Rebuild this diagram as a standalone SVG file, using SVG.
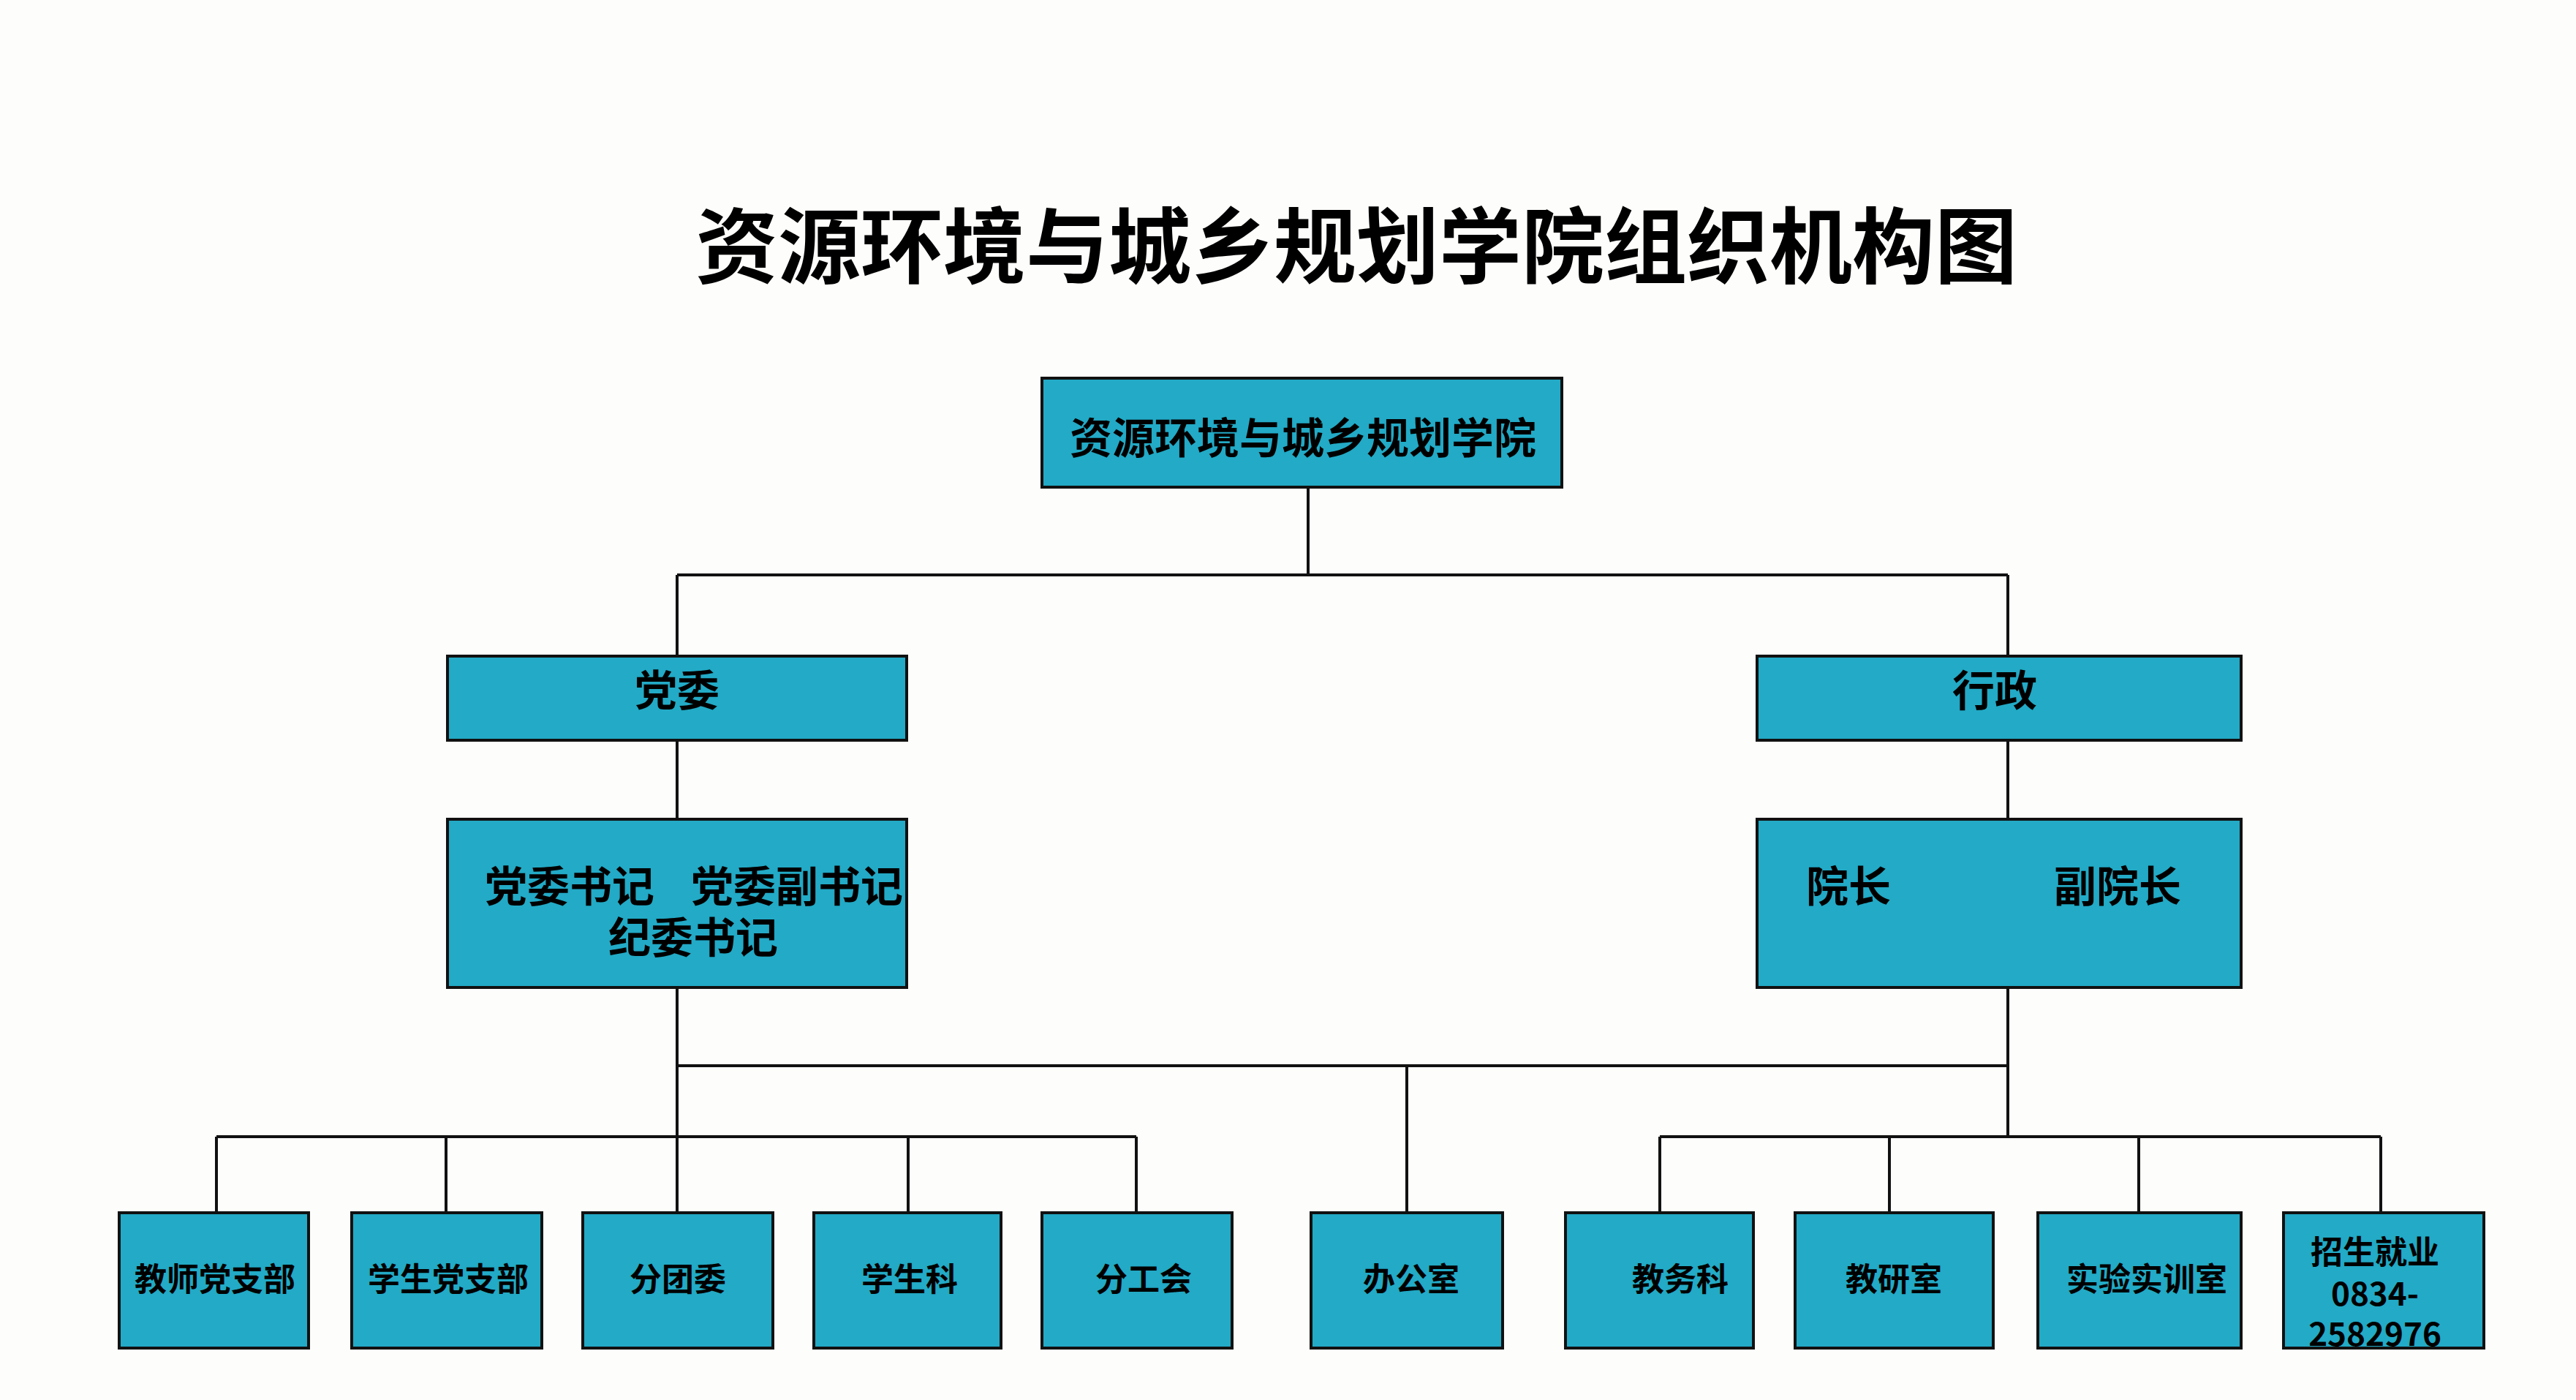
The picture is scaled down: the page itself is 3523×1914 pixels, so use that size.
<svg xmlns="http://www.w3.org/2000/svg" width="3523" height="1914" viewBox="0 0 3523 1914">
<style>
.b{fill:#22aac6;stroke:#111;stroke-width:4}
text{font-family:"Noto Sans CJK SC","Noto Sans",sans-serif;font-weight:bold;fill:#000;text-anchor:middle}
.s{font-size:44px}.m{font-size:58px}
.c{fill:none;stroke:#111;stroke-width:4}
</style>
<rect width="3523" height="1914" fill="#fdfdfb"/>
<text x="1855" y="378" style="font-size:113px">资源环境与城乡规划学院组织机构图</text>
<g id="connectors">
<path class="c" d="M1789 666V786M926 786H2746M926 786V897M2746 786V897M926 1012V1120M2746 1012V1120M926 1350V1457M2746 1350V1457M926 1457H2746M1924 1457V1658M926 1457V1554M296 1554H1554M296 1554V1658M610 1554V1658M926 1554V1658M1242 1554V1658M1554 1554V1658M2746 1457V1554M2270 1554H3256M2270 1554V1658M2584 1554V1658M2925 1554V1658M3256 1554V1658"/>
</g>
<g id="root"><rect class="b" x="1425" y="517" width="711" height="149"/><text class="m" x="1782" y="620">资源环境与城乡规划学院</text></g>
<g id="dangwei"><rect class="b" x="612" y="897" width="628" height="115"/><text class="m" x="926" y="965">党委</text></g>
<g id="xingzheng"><rect class="b" x="2403" y="897" width="662" height="115"/><text class="m" x="2728" y="965">行政</text></g>
<g id="shuji"><rect class="b" x="612" y="1120" width="628" height="230"/><text class="m" x="779" y="1233">党委书记</text><text class="m" x="1090" y="1233">党委副书记</text><text class="m" x="948" y="1303">纪委书记</text></g>
<g id="yuanzhang"><rect class="b" x="2403" y="1120" width="662" height="230"/><text class="m" x="2528" y="1233">院长</text><text class="m" x="2896" y="1233">副院长</text></g>
<g id="n1"><rect class="b" x="163" y="1658" width="259" height="185"/><text class="s" x="294" y="1765">教师党支部</text></g>
<g id="n2"><rect class="b" x="481" y="1658" width="260" height="185"/><text class="s" x="613" y="1765">学生党支部</text></g>
<g id="n3"><rect class="b" x="797" y="1658" width="260" height="185"/><text class="s" x="927" y="1765">分团委</text></g>
<g id="n4"><rect class="b" x="1113" y="1658" width="256" height="185"/><text class="s" x="1244" y="1765">学生科</text></g>
<g id="n5"><rect class="b" x="1425" y="1658" width="260" height="185"/><text class="s" x="1564" y="1765">分工会</text></g>
<g id="n6"><rect class="b" x="1793" y="1658" width="262" height="185"/><text class="s" x="1930" y="1765">办公室</text></g>
<g id="n7"><rect class="b" x="2141" y="1658" width="257" height="185"/><text class="s" x="2298" y="1765">教务科</text></g>
<g id="n8"><rect class="b" x="2455" y="1658" width="271" height="185"/><text class="s" x="2590" y="1765">教研室</text></g>
<g id="n9"><rect class="b" x="2787" y="1658" width="278" height="185"/><text class="s" x="2936" y="1765">实验实训室</text></g>
<g id="n10"><rect class="b" x="3123" y="1658" width="274" height="185"/><text class="s" x="3248" y="1728">招生就业</text><text class="s" x="3248" y="1785">0834-</text><text class="s" x="3248" y="1840">2582976</text></g>
</svg>
